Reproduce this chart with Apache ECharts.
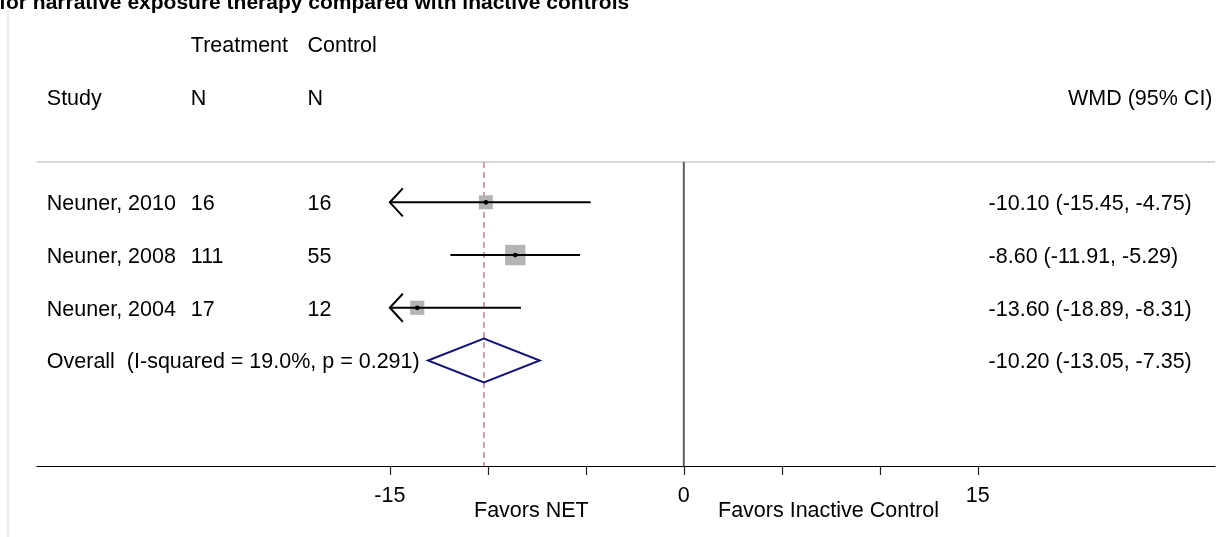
<!DOCTYPE html>
<html>
<head>
<meta charset="utf-8">
<script src="https://cdn.jsdelivr.net/npm/echarts@6/dist/echarts.min.js"></script>
<style>
html,body{margin:0;padding:0;background:#fff;}
#main{width:1228px;height:537px;}
</style>
</head>
<body>
<div id="main"></div>
<script>
// ---- data ----
const titleText = 'for narrative exposure therapy compared with inactive controls';
const studyLabels = ['Neuner, 2010', 'Neuner, 2008', 'Neuner, 2004'];
const treatmentN = [16, 111, 17];
const controlN = [16, 55, 12];
const wmd = [-10.10, -8.60, -13.60];
const ciLower = [-15.45, -11.91, -18.89];
const ciUpper = [-4.75, -5.29, -8.31];
const weights = [24.2, 51.1, 24.7];
const overallLabel = 'Overall  (I-squared = 19.0%, p = 0.291)';
const overallWmd = -10.20;
const overallLower = -13.05;
const overallUpper = -7.35;
const tickValues = [-15, -10, -5, 0, 5, 10, 15];
const tickLabels = [-15, 0, 15];
const headerTop = ['Treatment', 'Control'];
const headerBottom = ['Study', 'N', 'N', 'WMD (95% CI)'];
const favorLabels = ['Favors NET', 'Favors Inactive Control'];

// ---- layout ----
const FONT = '"Liberation Sans", Arial, Helvetica, sans-serif';
const FS = 21.5;
const X_MIN = -33, X_MAX = 27.1;
const Y_MIN = -2.836, Y_MAX = 6;
const SEP_Y = 0.236;
const COL = { study: -32.5, tn: -25.15, cn: -19.2, est: 15.55, wmdHead: 19.6 };
const clipLo = tickLabels[0], clipHi = tickLabels[tickLabels.length - 1];
const fmt = v => v.toFixed(2);

const studyData = studyLabels.map((s, i) => [wmd[i], ciLower[i], ciUpper[i], i + 1, weights[i]]);

// text table
const texts = [];
texts.push([COL.tn, -2, headerTop[0]]);
texts.push([COL.cn, -2, headerTop[1]]);
texts.push([COL.study, -1, headerBottom[0]]);
texts.push([COL.tn, -1, headerBottom[1]]);
texts.push([COL.cn, -1, headerBottom[2]]);
texts.push([COL.wmdHead, -1, headerBottom[3]]);
studyLabels.forEach((s, i) => {
  texts.push([COL.study, i + 1, s]);
  texts.push([COL.tn, i + 1, String(treatmentN[i])]);
  texts.push([COL.cn, i + 1, String(controlN[i])]);
  texts.push([COL.est, i + 1, fmt(wmd[i]) + ' (' + fmt(ciLower[i]) + ', ' + fmt(ciUpper[i]) + ')']);
});
texts.push([COL.study, 4, overallLabel]);
texts.push([COL.est, 4, fmt(overallWmd) + ' (' + fmt(overallLower) + ', ' + fmt(overallUpper) + ')']);

const chart = echarts.init(document.getElementById('main'), null, { renderer: 'canvas' });

const option = {
  animation: false,
  backgroundColor: '#ffffff',
  grid: { left: 37, right: 13, top: 0, bottom: 71, containLabel: false },
  xAxis: {
    type: 'value', min: X_MIN, max: X_MAX, position: 'bottom',
    axisLine: { show: true, onZero: false, lineStyle: { color: '#000', width: 1.2 } },
    axisTick: { show: true, inside: false, customValues: tickValues, length: 9, lineStyle: { color: '#222', width: 1.2 } },
    axisLabel: { show: true, customValues: tickLabels, margin: 19, color: '#000', fontFamily: FONT, fontSize: FS, formatter: v => String(v) },
    splitLine: { show: false }
  },
  yAxis: { type: 'value', min: Y_MIN, max: Y_MAX, inverse: true, show: false, splitLine: { show: false } },
  graphic: [
    { type: 'line', shape: { x1: 8, y1: 10, x2: 8, y2: 537 }, style: { stroke: '#e3eeee', lineWidth: 2 } },
    { type: 'text', x: -1, y: 3, style: { text: titleText, font: 'bold 21px ' + FONT, fill: '#000', textAlign: 'left', textVerticalAlign: 'middle' } },
    { type: 'text', x: 474, y: 511, style: { text: favorLabels[0], font: FS + 'px ' + FONT, fill: '#000', textAlign: 'left', textVerticalAlign: 'middle' } },
    { type: 'text', x: 718, y: 511, style: { text: favorLabels[1], font: FS + 'px ' + FONT, fill: '#000', textAlign: 'left', textVerticalAlign: 'middle' } }
  ],
  series: [
    { type: 'line', data: [[X_MIN, SEP_Y], [X_MAX, SEP_Y]], symbol: 'none', silent: true, lineStyle: { color: '#d8d8d8', width: 2 }, z: 1 },
    { type: 'line', data: [[0, SEP_Y], [0, Y_MAX]], symbol: 'none', silent: true, lineStyle: { color: '#5e5e5e', width: 2 }, z: 2 },
    { type: 'line', data: [[overallWmd, SEP_Y], [overallWmd, Y_MAX]], symbol: 'none', silent: true, lineStyle: { color: '#c68c92', width: 1.6, type: [6, 4] }, z: 2 },
    {
      type: 'custom', data: studyData, z: 5,
      renderItem: function (params, api) {
        const est = api.value(0), lo = api.value(1), hi = api.value(2), row = api.value(3), w = api.value(4);
        const loC = Math.max(lo, clipLo), hiC = Math.min(hi, clipHi);
        const p0 = api.coord([loC, row]), p1 = api.coord([hiC, row]), pc = api.coord([est, row]);
        const side = 2.85 * Math.sqrt(w);
        const children = [];
        children.push({ type: 'rect', shape: { x: pc[0] - side / 2, y: pc[1] - side / 2, width: side, height: side }, style: { fill: '#b4b4b4' } });
        children.push({ type: 'line', shape: { x1: p0[0], y1: p0[1], x2: p1[0], y2: p1[1] }, style: { stroke: '#000', lineWidth: 2 } });
        if (lo < clipLo) {
          children.push({ type: 'polyline', shape: { points: [[p0[0] + 13, p0[1] - 14], [p0[0], p0[1]], [p0[0] + 13, p0[1] + 14]] }, style: { stroke: '#000', lineWidth: 2, fill: 'none' } });
        }
        if (hi > clipHi) {
          children.push({ type: 'polyline', shape: { points: [[p1[0] - 13, p1[1] - 14], [p1[0], p1[1]], [p1[0] - 13, p1[1] + 14]] }, style: { stroke: '#000', lineWidth: 2, fill: 'none' } });
        }
        children.push({ type: 'circle', shape: { cx: pc[0], cy: pc[1], r: 2.4 }, style: { fill: '#000' } });
        return { type: 'group', children: children };
      }
    },
    {
      type: 'custom', data: [[overallWmd, overallLower, overallUpper, 4]], z: 5,
      renderItem: function (params, api) {
        const est = api.value(0), lo = api.value(1), hi = api.value(2), row = api.value(3);
        const pl = api.coord([lo, row]), pr = api.coord([hi, row]), pc = api.coord([est, row]);
        const h = 22;
        return {
          type: 'polygon',
          shape: { points: [[pl[0], pl[1]], [pc[0], pc[1] - h], [pr[0], pr[1]], [pc[0], pc[1] + h]] },
          style: { fill: 'none', stroke: '#16167a', lineWidth: 2 }
        };
      }
    },
    {
      type: 'custom', data: texts.map(t => [t[0], t[1]]), z: 6,
      renderItem: function (params, api) {
        const p = api.coord([api.value(0), api.value(1)]);
        return {
          type: 'text', x: p[0], y: p[1] + 2,
          style: { text: texts[params.dataIndex][2], font: FS + 'px ' + FONT, fill: '#000', textAlign: 'left', textVerticalAlign: 'middle' }
        };
      }
    }
  ]
};
chart.setOption(option);
</script>
</body>
</html>
